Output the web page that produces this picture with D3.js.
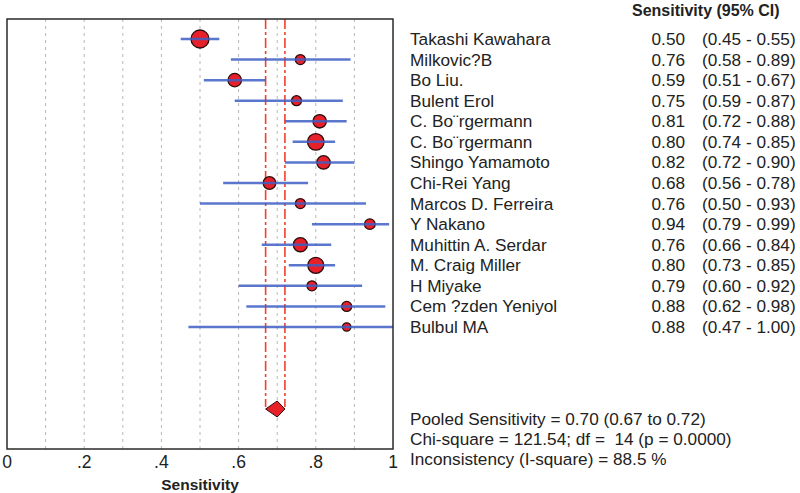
<!DOCTYPE html>
<html>
<head>
<meta charset="utf-8">
<script src="https://cdn.jsdelivr.net/npm/d3@7"></script>
<style>
  body { margin: 0; background: #fff; }
  svg { display: block; font-family: "Liberation Sans", Arial, sans-serif; }
  text { white-space: pre; }
</style>
</head>
<body>
<div id="chart"></div>
<script>
// study rows, top to bottom
var studies = ["Takashi Kawahara", "Milkovic?B", "Bo Liu.", "Bulent Erol", "C. Bo\u00a8rgermann",
               "C. Bo\u00a8rgermann", "Shingo Yamamoto", "Chi-Rei Yang", "Marcos D. Ferreira", "Y Nakano",
               "Muhittin A. Serdar", "M. Craig Miller", "H Miyake", "Cem ?zden Yeniyol", "Bulbul MA"];
var sens  = [0.50, 0.76, 0.59, 0.75, 0.81, 0.80, 0.82, 0.68, 0.76, 0.94, 0.76, 0.80, 0.79, 0.88, 0.88];
var lower = [0.45, 0.58, 0.51, 0.59, 0.72, 0.74, 0.72, 0.56, 0.50, 0.79, 0.66, 0.73, 0.60, 0.62, 0.47];
var upper = [0.55, 0.89, 0.67, 0.87, 0.88, 0.85, 0.90, 0.78, 0.93, 0.99, 0.84, 0.85, 0.92, 0.98, 1.00];
// approx study weights (%)
var weights = [13.3, 4.1, 7.4, 4.1, 7.4, 11.3, 7.4, 6.5, 4.1, 4.6, 8.1, 10.5, 4.1, 4.1, 2.9];

var pooled = [0.70, 0.67, 0.72];   // estimate, lo, hi
var statsText = ["Pooled Sensitivity = 0.70 (0.67 to 0.72)",
                 "Chi-square = 121.54; df =  14 (p = 0.0000)",
                 "Inconsistency (I-square) = 88.5 %"];
var tickVals = [0, 0.2, 0.4, 0.6, 0.8, 1];
var tickLabels = ["0", ".2", ".4", ".6", ".8", "1"];
var gridVals = [0.1, 0.2, 0.3, 0.4, 0.5, 0.6, 0.7, 0.8, 0.9];

var W = 800, H = 493;
var box = {left: 7, right: 393, top: 19, bottom: 449};

var svg = d3.select("#chart").append("svg")
    .attr("width", W).attr("height", H);

var x = d3.scaleLinear().domain([0, 1]).range([box.left, box.right]);
var y = d3.scalePoint().domain(d3.range(studies.length)).range([39, 327]);
var r = d3.scaleSqrt().domain([0, d3.max(weights)]).range([0, 9]);
var diamondY = 409;

// dashed grid
svg.append("g").selectAll("line")
    .data(gridVals).enter().append("line")
    .attr("x1", function(d) { return x(d); })
    .attr("x2", function(d) { return x(d); })
    .attr("y1", box.top).attr("y2", box.bottom)
    .attr("stroke", "#b8b8b8")
    .attr("stroke-width", 1)
    .attr("stroke-dasharray", "3,4");

// pooled CI lines, bending in to the diamond tips at the bottom
svg.append("g").selectAll("path")
    .data([pooled[1], pooled[2]]).enter().append("path")
    .attr("d", function(d) {
      return "M" + x(d) + "," + box.top + "V" + (diamondY - 2);
    })
    .attr("fill", "none")
    .attr("stroke", "#f0402e")
    .attr("stroke-width", 1.6)
    .attr("stroke-dasharray", "10,3,3,3");

// markers + CI bars
var rows = svg.append("g").selectAll("g")
    .data(studies).enter().append("g");

rows.append("circle")
    .attr("cx", function(d, i) { return x(sens[i]); })
    .attr("cy", function(d, i) { return y(i); })
    .attr("r", function(d, i) { return r(weights[i]); })
    .attr("fill", "#e8202a")
    .attr("stroke", "#2a0c0c")
    .attr("stroke-width", 1.3);

rows.append("line")
    .attr("x1", function(d, i) { return x(lower[i]); })
    .attr("x2", function(d, i) { return x(upper[i]); })
    .attr("y1", function(d, i) { return y(i); })
    .attr("y2", function(d, i) { return y(i); })
    .attr("stroke", "#3e5fc4")
    .attr("stroke-opacity", 0.85)
    .attr("stroke-width", 2.5);

// pooled diamond
svg.append("path")
    .attr("d", "M" + x(pooled[1]) + "," + diamondY +
               "L" + x(pooled[0]) + "," + (diamondY - 8) +
               "L" + x(pooled[2]) + "," + diamondY +
               "L" + x(pooled[0]) + "," + (diamondY + 8) + "Z")
    .attr("fill", "#e8202a")
    .attr("stroke", "#2a0c0c")
    .attr("stroke-width", 1);

// frame
svg.append("rect")
    .attr("x", box.left).attr("y", box.top)
    .attr("width", box.right - box.left).attr("height", box.bottom - box.top)
    .attr("fill", "none")
    .attr("stroke", "#2a2a2a")
    .attr("stroke-width", 1.5);

// x ticks
svg.append("g").selectAll("text")
    .data(tickVals).enter().append("text")
    .attr("x", function(d) { return x(d); })
    .attr("y", 468)
    .attr("text-anchor", "middle")
    .attr("font-size", 17.5)
    .attr("fill", "#222")
    .text(function(d, i) { return tickLabels[i]; });

svg.append("text")
    .attr("x", x(0.5)).attr("y", 490)
    .attr("text-anchor", "middle")
    .attr("font-size", 15.5)
    .attr("font-weight", "bold")
    .attr("fill", "#222")
    .text("Sensitivity");

// right-hand table
svg.append("text")
    .attr("x", 632).attr("y", 16)
    .attr("font-size", 16)
    .attr("font-weight", "bold")
    .attr("fill", "#222")
    .text("Sensitivity (95% CI)");

var tbl = svg.append("g").attr("font-size", 17.2).attr("fill", "#222");

tbl.selectAll("text.name")
    .data(studies).enter().append("text")
    .attr("class", "name")
    .attr("x", 410)
    .attr("y", function(d, i) { return y(i) + 6; })
    .text(function(d) { return d; });

tbl.selectAll("text.val")
    .data(sens).enter().append("text")
    .attr("class", "val")
    .attr("x", 685)
    .attr("y", function(d, i) { return y(i) + 6; })
    .attr("text-anchor", "end")
    .text(function(d) { return d3.format(".2f")(d); });

tbl.selectAll("text.ci")
    .data(studies).enter().append("text")
    .attr("class", "ci")
    .attr("x", 702)
    .attr("y", function(d, i) { return y(i) + 6; })
    .text(function(d, i) {
      return "(" + d3.format(".2f")(lower[i]) + " - " + d3.format(".2f")(upper[i]) + ")";
    });

tbl.selectAll("text.stat")
    .data(statsText).enter().append("text")
    .attr("class", "stat")
    .attr("x", 410)
    .attr("y", function(d, i) { return 425 + i * 20; })
    .text(function(d) { return d; });
</script>
</body>
</html>
